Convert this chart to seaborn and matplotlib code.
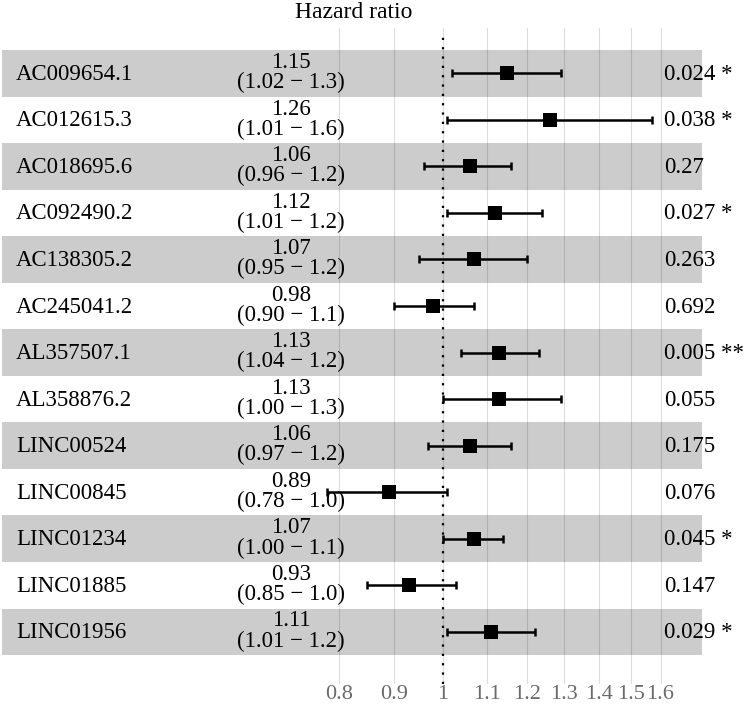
import matplotlib

matplotlib.use("Agg")

import matplotlib.pyplot as plt  # noqa: E402
import matplotlib.transforms as mtransforms  # noqa: E402
from matplotlib.ticker import FixedLocator, FixedFormatter, NullLocator  # noqa: E402
import pandas as pd  # noqa: E402
import seaborn as sns  # noqa: E402

sns.set_theme(style="white")
plt.rcParams["font.family"] = ["Liberation Serif", "DejaVu Serif"]

# --- data ---
genes = ["AC009654.1", "AC012615.3", "AC018695.6", "AC092490.2", "AC138305.2",
         "AC245041.2", "AL357507.1", "AL358876.2", "LINC00524", "LINC00845",
         "LINC01234", "LINC01885", "LINC01956"]
hr = [1.15, 1.26, 1.06, 1.12, 1.07, 0.98, 1.13, 1.13, 1.06, 0.89, 1.07, 0.93, 1.11]
ci_low = [1.02, 1.01, 0.96, 1.01, 0.95, 0.90, 1.04, 1.00, 0.97, 0.78, 1.00, 0.85, 1.01]
ci_high = [1.29, 1.57, 1.16, 1.24, 1.20, 1.07, 1.23, 1.29, 1.16, 1.01, 1.14, 1.03, 1.22]
ci_text = ["(1.02 − 1.3)", "(1.01 − 1.6)", "(0.96 − 1.2)", "(1.01 − 1.2)",
           "(0.95 − 1.2)", "(0.90 − 1.1)", "(1.04 − 1.2)", "(1.00 − 1.3)",
           "(0.97 − 1.2)", "(0.78 − 1.0)", "(1.00 − 1.1)", "(0.85 − 1.0)",
           "(1.01 − 1.2)"]
p_text = ["0.024 *", "0.038 *", "0.27", "0.027 *", "0.263", "0.692", "0.005 **",
          "0.055", "0.175", "0.076", "0.045 *", "0.147", "0.029 *"]
x_ticks = [0.8, 0.9, 1, 1.1, 1.2, 1.3, 1.4, 1.5, 1.6]
x_tick_labels = ["0.8", "0.9", "1", "1.1", "1.2", "1.3", "1.4", "1.5", "1.6"]

df = pd.DataFrame({"gene": genes, "hr": hr, "low": ci_low, "high": ci_high,
                   "row": range(1, len(genes) + 1)})

W, H = 747, 705
bottom_px = 684
fig = plt.figure(figsize=(W / 100, H / 100), dpi=100)
ax = fig.add_axes([0, (H - bottom_px) / H, 1, (bottom_px - 28) / H])

ax.set_xscale("log")
ax.set_xlim(0.3851, 1.928)
ax.set_ylim(1 + (bottom_px - 73.3) / 46.54, 0.027)

# alternating grey bands
for r in df["row"]:
    if r % 2 == 1:
        ax.axhspan(r - 0.5, r + 0.5, xmin=2 / W, xmax=702 / W,
                   color="black", alpha=0.2, lw=0, zorder=1)

ax.set_axisbelow(True)
ax.grid(axis="x", color="#dcdcdc", lw=0.8)
ax.grid(axis="y", visible=False)
ax.axvline(1, ymin=0, ymax=1 - 8 / (bottom_px - 28), color="black", lw=1.6,
           ls=(0, (1, 3.2)), zorder=2)

ax.errorbar(df["hr"], df["row"],
            xerr=[df["hr"] - df["low"], df["high"] - df["hr"]],
            fmt="none", ecolor="black", elinewidth=1.8, capsize=3, capthick=1.8,
            zorder=3)
sns.scatterplot(data=df, x="hr", y="row", marker="s", s=100, color="black",
                edgecolor="black", linewidth=0, ax=ax, zorder=4, legend=False)

tr = mtransforms.blended_transform_factory(ax.transAxes, ax.transData)
for r, g, est, ci, p in zip(df["row"], genes, hr, ci_text, p_text):
    ax.text(16 / W, r + 0.14, g, transform=tr, ha="left", va="baseline",
            fontsize=16.5, color="black")
    ax.text(291 / W, r - 0.114, f"{est:.2f}", transform=tr, ha="center",
            va="baseline", fontsize=16.5, color="black")
    ax.text(291 / W, r + 0.32, ci, transform=tr, ha="center",
            va="baseline", fontsize=16.5, color="black")
    ax.text(664 / W, r + 0.14, p, transform=tr, ha="left", va="baseline",
            fontsize=16.5, color="black")

ax.xaxis.set_major_locator(FixedLocator(x_ticks))
ax.xaxis.set_major_formatter(FixedFormatter(x_tick_labels))
ax.xaxis.set_minor_locator(NullLocator())
ax.tick_params(axis="x", length=0, pad=0.5, labelsize=16, labelcolor="#6a6a6a")
ax.set_yticks([])
ax.set_xlabel("")
ax.set_ylabel("")
for s in ax.spines.values():
    s.set_visible(False)

fig.text(354 / W, 1 - 12 / H, "Hazard ratio", ha="center", va="center",
         fontsize=17, color="black")

fig.savefig("out.png", dpi=100)
